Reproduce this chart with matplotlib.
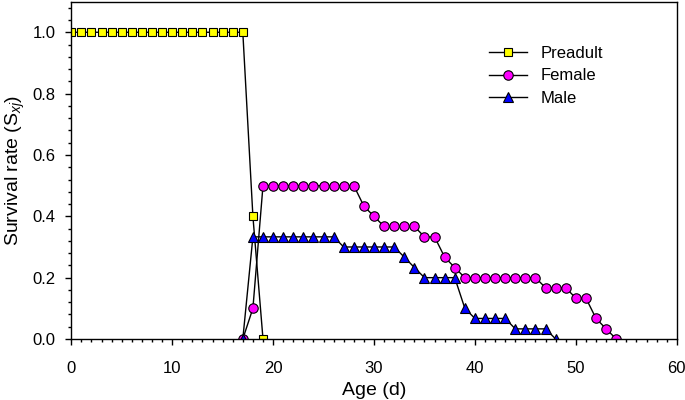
import matplotlib.pyplot as plt
from matplotlib.ticker import MultipleLocator

plt.rcParams['font.family'] = ['Liberation Sans', 'DejaVu Sans']
plt.rcParams['mathtext.fontset'] = 'custom'
plt.rcParams['mathtext.rm'] = 'Liberation Sans'
plt.rcParams['mathtext.it'] = 'Liberation Sans:italic'

# survival rate by age stage
pre_age = list(range(0, 20))
pre_s = [1.0] * 18 + [0.4, 0.0]

fem_age = list(range(17, 55))
fem_s = [0.0, 0.1] + [0.5] * 10 + [0.433, 0.4] + [0.367] * 4 + [0.333] * 2 + \
        [0.267, 0.233] + [0.2] * 8 + [0.167] * 3 + [0.133] * 2 + [0.067, 0.033, 0.0]

male_age = list(range(17, 49))
male_s = [0.0] + [0.333] * 9 + [0.3] * 6 + [0.267, 0.233] + [0.2] * 4 + \
         [0.1] + [0.067] * 4 + [0.033] * 4 + [0.0]

fig = plt.figure(figsize=(6.85, 4.0), dpi=100)
ax = fig.add_axes([0.104, 0.1525, 0.884, 0.8435])

ax.plot(pre_age, pre_s, color='black', lw=1, marker='s', ms=6.2,
        mfc='#FFFF00', mec='black', mew=0.8, label='Preadult')
ax.plot(fem_age, fem_s, color='black', lw=1, marker='o', ms=6.8,
        mfc='#FF00FF', mec='black', mew=0.8, label='Female')
ax.plot(male_age, male_s, color='black', lw=1, marker='^', ms=7.2,
        mfc='#0000FF', mec='black', mew=0.8, label='Male')

ax.set_xlim(0, 60)
ax.set_ylim(0, 1.1)
ax.xaxis.set_major_locator(MultipleLocator(10))
ax.xaxis.set_minor_locator(MultipleLocator(1))
ax.yaxis.set_major_locator(MultipleLocator(0.2))
ax.yaxis.set_minor_locator(MultipleLocator(0.04))
ax.yaxis.set_major_formatter(plt.FormatStrFormatter('%.1f'))
ax.tick_params(which='major', direction='out', length=4.5, width=1, labelsize=12)
ax.tick_params(which='minor', direction='out', length=2.5, width=1)
ax.tick_params(axis='x', pad=11.5)
ax.tick_params(axis='y', pad=7)
for s in ax.spines.values():
    s.set_linewidth(1)

ax.set_xlabel('Age (d)', fontsize=14, labelpad=4)
ax.set_ylabel('Survival rate (S$_{xj}$)', fontsize=14, labelpad=4)

ax.legend(loc='upper left', bbox_to_anchor=(0.665, 0.913), frameon=False,
          fontsize=12, handlelength=2.3, labelspacing=0.45)

fig.savefig('out.png', dpi=100)
